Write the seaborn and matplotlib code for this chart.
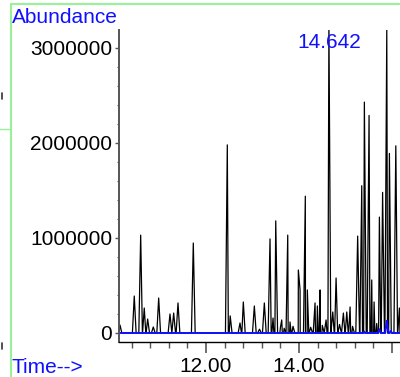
import matplotlib
matplotlib.use('Agg')
import matplotlib.pyplot as plt
from matplotlib.lines import Line2D
from matplotlib.ticker import MultipleLocator, FixedLocator
import pandas as pd
import seaborn as sns

# --- Chromatogram data -------------------------------------------------------
# Apex of every peak in the black trace: retention time (min) and abundance.
peak_times = [10.151, 10.458, 10.596, 10.673, 10.746, 10.867, 10.983,
              11.226, 11.305, 11.398, 11.727,
              12.458, 12.52, 12.731, 12.802, 13.039, 13.15, 13.254,
              13.376, 13.441, 13.499, 13.60, 13.628, 13.68, 13.757,
              13.806, 13.87, 13.985, 14.022, 14.135, 14.178, 14.25,
              14.344, 14.394, 14.452, 14.50, 14.581, 14.642, 14.725,
              14.796, 14.87, 14.953, 15.026, 15.097, 15.15, 15.26,
              15.348, 15.404, 15.505, 15.563, 15.613, 15.67, 15.727,
              15.796, 15.886, 15.942, 16.080, 16.157]
peak_heights = [84000, 389000, 1030000, 263000, 147000, 63000, 368000,
                200000, 210000, 316000, 947000,
                1980000, 180000, 105000, 326000, 284000, 40000, 316000,
                990000, 158000, 1180000, 60000, 137000, 50000, 1030000,
                116000, 70000, 663000, 453000, 1440000, 453000, 60000,
                316000, 284000, 453000, 80000, 137000, 3250000, 221000,
                579000, 90000, 210000, 221000, 274000, 70000, 1020000,
                1550000, 2430000, 2290000, 558000, 326000, 100000, 1220000,
                1480000, 3190000, 1890000, 1970000, 263000]

# Second (blue) trace: flat except a few small bumps at the end.
blue_times = [10.13, 15.38, 15.40, 15.42, 15.70, 15.727, 15.76,
              15.85, 15.886, 15.92, 15.95, 15.97, 16.00, 16.17]
blue_values = [0, 0, 15000, 0, 0, 40000, 0,
               0, 130000, 0, 0, 20000, 0, 0]

label_time = 14.642
label_text = '14.642'
y_ticks = [0, 1000000, 2000000, 3000000]
x_ticks = [12, 14, 16]
x_tick_labels = ['12.00', '14.00', '']

# --- Look --------------------------------------------------------------------
X_LIM = (10.13, 16.17)
Y_LIM = (-95000, 3189000)
HALF_WIDTH = 0.04          # peaks drawn as narrow triangles
BLUE = '#1010ff'
GREEN = '#98f098'

sns.set_style('ticks')
plt.rcParams['font.family'] = ['Liberation Sans', 'DejaVu Sans']
plt.rcParams['font.size'] = 15

# turn the apex list into a trace (baseline -> apex -> baseline)
rows = [(X_LIM[0], 0), (X_LIM[1], 0)]
for t, h in zip(peak_times, peak_heights):
    rows += [(t - HALF_WIDTH, 0), (t, h), (t + HALF_WIDTH, 0)]
tic = pd.DataFrame(rows, columns=['time', 'abundance'])
blue = pd.DataFrame({'time': blue_times, 'abundance': blue_values})

fig = plt.figure(figsize=(4, 3.77), dpi=100)
ax = fig.add_axes([0.2975, 0.0928, 0.7025, 0.8276])

sns.lineplot(data=tic, x='time', y='abundance', sort=True, estimator=None,
             color='black', linewidth=0.9, ax=ax)
sns.lineplot(data=blue, x='time', y='abundance', sort=True, estimator=None,
             color=BLUE, linewidth=1.4, ax=ax)

ax.set_xlim(*X_LIM)
ax.set_ylim(*Y_LIM)
ax.set_xlabel('')
ax.set_ylabel('')

# axes: left and bottom only
for side in ('top', 'right'):
    ax.spines[side].set_visible(False)
ax.spines['left'].set_color('#555555')
ax.spines['left'].set_linewidth(1.4)
ax.spines['bottom'].set_color('black')
ax.spines['bottom'].set_linewidth(1.0)

ax.yaxis.set_major_locator(FixedLocator(y_ticks))
ax.set_yticklabels([str(v) for v in y_ticks])
ax.yaxis.set_minor_locator(MultipleLocator(200000))
ax.xaxis.set_major_locator(FixedLocator(x_ticks))
ax.set_xticklabels(x_tick_labels)
ax.xaxis.set_minor_locator(MultipleLocator(0.4))

ax.tick_params(axis='y', which='major', length=3, width=1, pad=2,
               color='#555555', labelsize=15, labelcolor='black')
ax.tick_params(axis='y', which='minor', length=1.8, width=0.8, color='#555555')
ax.tick_params(axis='x', which='major', length=8, width=1.2, pad=2.5,
               color='#555555', labelsize=15, labelcolor='black')
ax.tick_params(axis='x', which='minor', length=4.3, width=1, color='#555555')

ax.text(label_time, 3000000, label_text, color=BLUE, fontsize=15,
        ha='center', va='baseline', clip_on=False)

fig.text(0.03, 0.938, 'Abundance', color=BLUE, fontsize=15, va='baseline')
fig.text(0.03, 0.0114, 'Time-->', color=BLUE, fontsize=15, va='baseline')

# light green frame fragments of the original screenshot
fig.add_artist(Line2D([0.0275, 1.0], [0.989, 0.989], color=GREEN, lw=1.5))
fig.add_artist(Line2D([0.0275, 0.0275], [0.0, 0.989], color=GREEN, lw=1.5))
fig.add_artist(Line2D([0.0, 0.0275], [0.657, 0.657], color=GREEN, lw=1.0))
fig.add_artist(Line2D([0.004, 0.004], [0.737, 0.753], color='#333333', lw=1.2))
fig.add_artist(Line2D([0.004, 0.004], [0.074, 0.090], color='#333333', lw=1.2))

fig.savefig('out.png', dpi=100)
